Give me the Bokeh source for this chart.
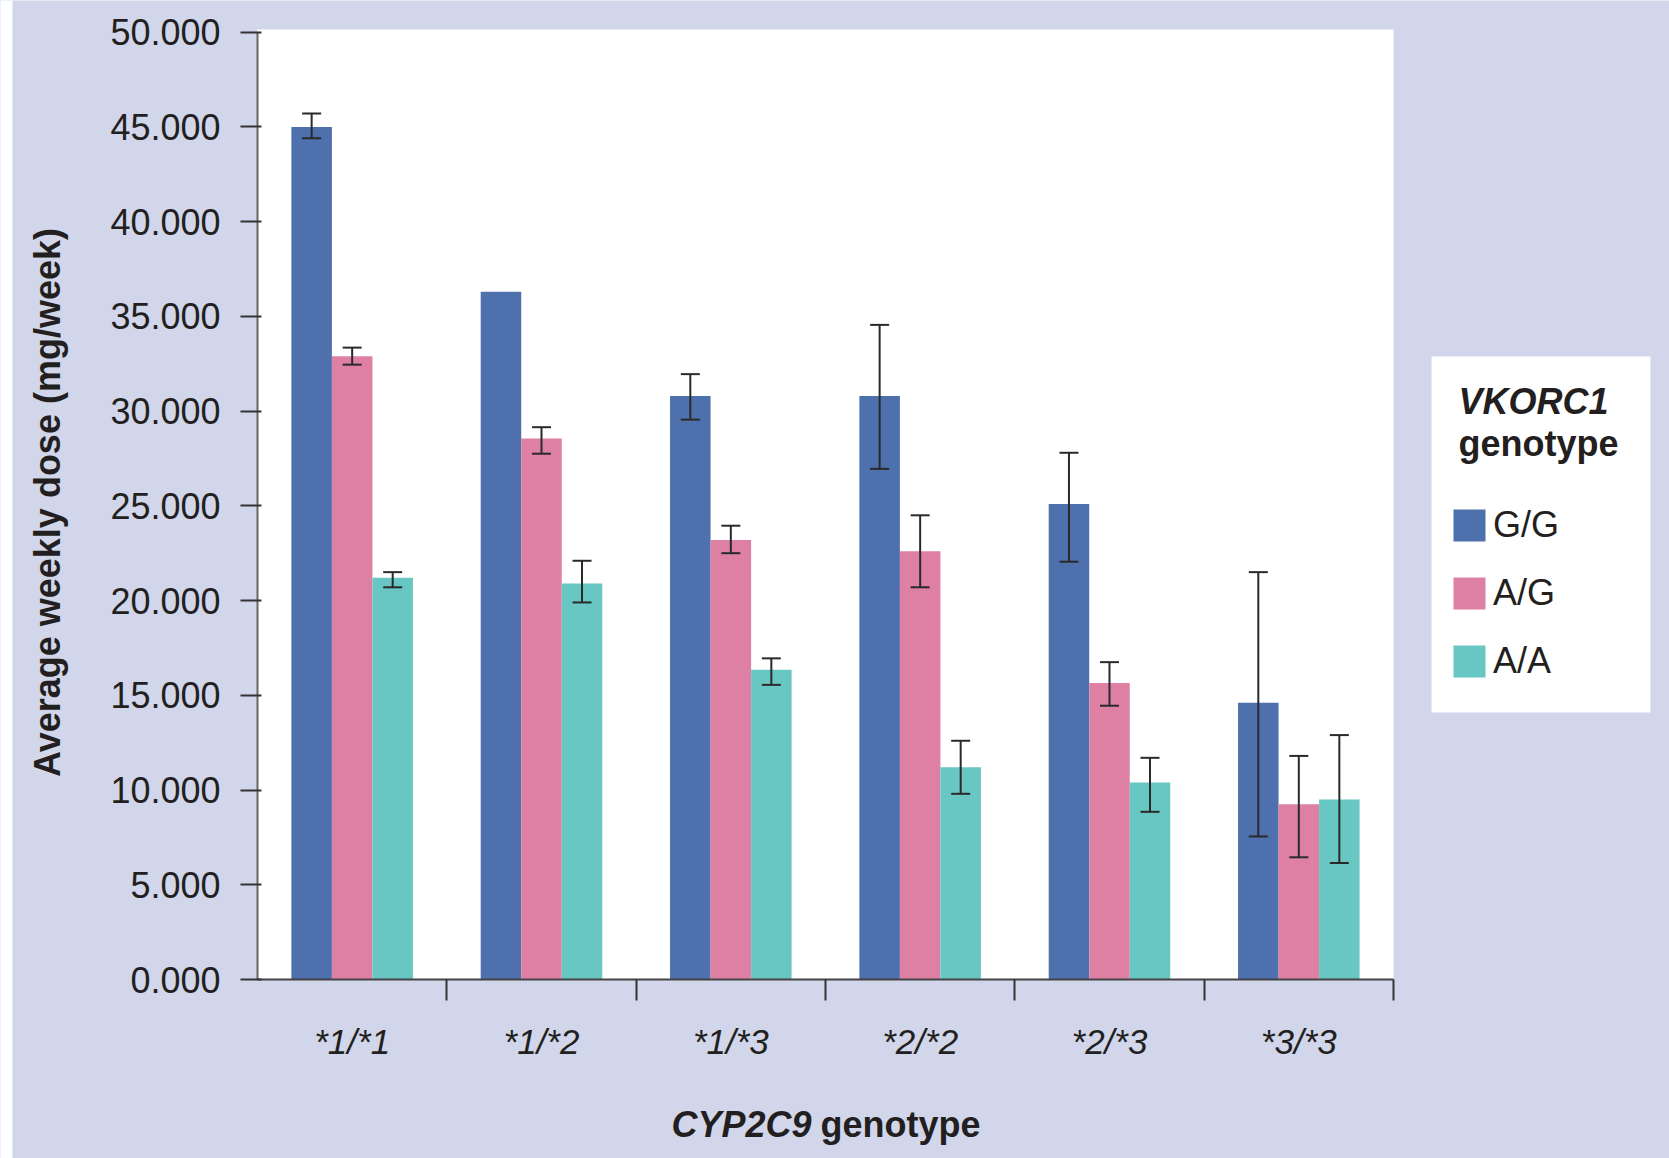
import math
from bokeh.plotting import figure
from bokeh.models import (Range1d, LinearAxis, FixedTicker, Whisker, TeeHead, ColumnDataSource,
                          Legend, LegendItem, Label, BoxAnnotation, PrintfTickFormatter)
from bokeh.transform import dodge
from bokeh.embed import file_html
from bokeh.resources import INLINE

# ---- data ----
categories = ["*1/*1", "*1/*2", "*1/*3", "*2/*2", "*2/*3", "*3/*3"]
series_names = ["G/G", "A/G", "A/A"]
gg_mean = [45.0, 36.3, 30.8, 30.8, 25.1, 14.6]
gg_low = [44.4, None, 29.55, 26.95, 22.05, 7.55]
gg_high = [45.7, None, 31.95, 34.55, 27.8, 21.5]
ag_mean = [32.9, 28.55, 23.2, 22.6, 15.65, 9.25]
ag_low = [32.45, 27.75, 22.5, 20.7, 14.45, 6.45]
ag_high = [33.35, 29.15, 23.95, 24.5, 16.75, 11.8]
aa_mean = [21.2, 20.9, 16.35, 11.2, 10.4, 9.5]
aa_low = [20.7, 19.9, 15.55, 9.8, 8.85, 6.15]
aa_high = [21.5, 22.1, 16.95, 12.6, 11.7, 12.9]
y_ticks = [0, 5, 10, 15, 20, 25, 30, 35, 40, 45, 50]
y_max = 50.14

colors = ["#4E70AC", "#DD80A4", "#68C7C2"]
BG = "#D1D6EA"
TXT = "#231F20"
FONT = "Liberation Sans"

# ---- layout (canvas pixels) ----
W, H = 1669, 1158
X0_PX, CAT_PX = 257, 189.33       # x of category-axis origin, pixels per category
Y0_PX, UNIT_PX = 979, 18.947      # y of zero line, pixels per mg/week

n = len(categories)
xpos = [i + 0.5 for i in range(n)]
bounds = [i + 1 for i in range(n)]

p = figure(x_range=Range1d(-X0_PX / CAT_PX, (W - X0_PX) / CAT_PX),
           y_range=Range1d(-(H - Y0_PX) / UNIT_PX, Y0_PX / UNIT_PX),
           width=W, height=H, output_backend="svg", toolbar_location=None,
           x_axis_location=None, y_axis_location=None,
           min_border_left=0, min_border_right=0, min_border_top=0, min_border_bottom=0)
p.title.visible = False
p.background_fill_color = BG
p.border_fill_color = BG
p.outline_line_color = None
p.xgrid.visible = False
p.ygrid.visible = False

# white plot area and left page strip
p.add_layout(BoxAnnotation(left=0, right=n, bottom=0, top=y_max, fill_color="white",
                           fill_alpha=1.0, line_color=None, level="underlay"))
p.add_layout(BoxAnnotation(left=0, right=12, bottom=0, top=H, left_units="screen",
                           right_units="screen", bottom_units="screen", top_units="screen",
                           fill_color="white", fill_alpha=1.0, line_color=None, level="underlay"))

# y axis
ya = LinearAxis(fixed_location=0, bounds=(0, 50),
                ticker=FixedTicker(ticks=y_ticks, minor_ticks=[]),
                formatter=PrintfTickFormatter(format="%.3f"),
                major_label_text_font=FONT, major_label_text_font_size="36px",
                major_label_text_color=TXT, major_label_standoff=20,
                major_tick_out=17, major_tick_in=4,
                major_tick_line_color="#333333", major_tick_line_width=2,
                axis_line_color="#666666", axis_line_width=2)
p.add_layout(ya, "left")

# x axes: boundary ticks + category labels
tick_axis = LinearAxis(fixed_location=0, bounds=(0, n),
                       ticker=FixedTicker(ticks=bounds, minor_ticks=[]),
                       major_label_overrides={b: "" for b in bounds},
                       major_label_text_font_size="0px", major_label_standoff=0,
                       major_tick_out=21, major_tick_in=0,
                       major_tick_line_color="#333333", major_tick_line_width=2,
                       axis_line_color="#444444", axis_line_width=2)
p.add_layout(tick_axis, "below")
cat_axis = LinearAxis(fixed_location=0, bounds=(0, n),
                      ticker=FixedTicker(ticks=xpos, minor_ticks=[]),
                      major_label_overrides={x: c for x, c in zip(xpos, categories)},
                      major_tick_line_color=None, major_tick_out=0, major_tick_in=0,
                      axis_line_color=None,
                      major_label_text_font=FONT, major_label_text_font_size="35px",
                      major_label_text_font_style="italic", major_label_text_color=TXT,
                      major_label_standoff=42)
p.add_layout(cat_axis, "below")

# bars + whiskers
width = 0.214
offsets = [-width, 0.0, width]
means = [gg_mean, ag_mean, aa_mean]
lows = [gg_low, ag_low, aa_low]
highs = [gg_high, ag_high, aa_high]
renderers = []
for name, m, lo, hi, off, col in zip(series_names, means, lows, highs, offsets, colors):
    src = ColumnDataSource(dict(x=xpos, cat=categories, top=m))
    r = p.vbar(x=dodge("x", off), top="top", width=width, source=src,
               fill_color=col, line_color=None)
    renderers.append(r)
    keep = [i for i in range(n) if lo[i] is not None]
    wsrc = ColumnDataSource(dict(x=[xpos[i] for i in keep],
                                 lower=[lo[i] for i in keep], upper=[hi[i] for i in keep]))
    w = Whisker(base=dodge("x", off), lower="lower", upper="upper",
                source=wsrc, line_color="#2a2a2a", line_width=2, level="overlay",
                upper_head=TeeHead(size=19, line_color="#2a2a2a", line_width=2),
                lower_head=TeeHead(size=19, line_color="#2a2a2a", line_width=2))
    p.add_layout(w)

# legend panel (screen units measured from the bottom-left corner)
p.add_layout(BoxAnnotation(left=1431, right=1650, bottom=H - 712, top=H - 356,
                           left_units="screen", right_units="screen",
                           bottom_units="screen", top_units="screen",
                           fill_color="white", fill_alpha=1.0, line_color=None))

legend = Legend(items=[LegendItem(label=s, renderers=[r]) for s, r in zip(series_names, renderers)],
                location=(1449, H - 682), margin=0, padding=10, spacing=26,
                glyph_width=40, glyph_height=40, label_height=42, label_standoff=4,
                label_text_font=FONT, label_text_font_size="36px", label_text_color=TXT,
                background_fill_alpha=0, border_line_color=None)
p.add_layout(legend)


def text(x, y, s, style, align="center", baseline="alphabetic", angle=0.0):
    p.add_layout(Label(x=x, y=H - y, x_units="screen", y_units="screen", text=s,
                       text_font=FONT, text_font_size="36px", text_font_style=style,
                       text_color=TXT, text_align=align, text_baseline=baseline, angle=angle))


text(1533, 401, "VKORC1", "bold italic")
text(1538, 443, "genotype", "bold")
text(811, 1124, "CYP2C9", "bold italic", align="right")
text(820, 1124, "genotype", "bold", align="left")
text(47, 502, "Average weekly dose (mg/week)", "bold", baseline="middle", angle=math.pi / 2)

open("out.html", "w").write(file_html(p, INLINE))
